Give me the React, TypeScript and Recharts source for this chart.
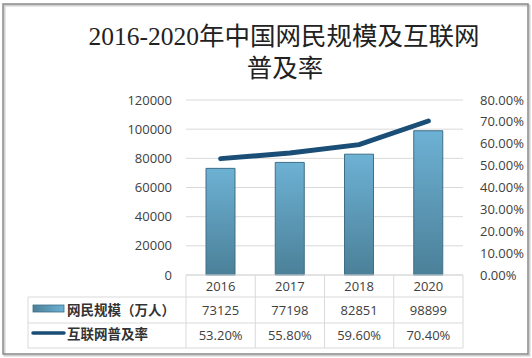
import React from 'react';
import { ComposedChart, Bar, Line, XAxis, YAxis, CartesianGrid } from 'recharts';

const years = ['2016', '2017', '2018', '2020'];
const netizens = [73125, 77198, 82851, 98899];
const penetration = [53.2, 55.8, 59.6, 70.4];
const leftTicks = [0, 20000, 40000, 60000, 80000, 100000, 120000];
const rightTicks = [0, 10, 20, 30, 40, 50, 60, 70, 80];
const seriesNames = ['网民规模（万人）', '互联网普及率'];
const titleLines = ['2016-2020年中国网民规模及互联网', '普及率'];

const data = years.map((y, i) => ({ year: y, netizens: netizens[i], penetration: penetration[i] }));

const W = 532;
const H = 358;
const PLOT_LEFT = 186;
const PLOT_RIGHT = 463;
const BW = (PLOT_RIGHT - PLOT_LEFT) / years.length;
const T0 = 275;
const T1 = 297;
const T2 = 323;
const T3 = 348;
const TABLE_LEFT = 28;
const GRID = '#d9d9d9';
const TXT = '#404040';
const FONT = "'Open Sans', 'Noto Sans', sans-serif";
const CJK = "'Noto Sans CJK SC', 'Noto Sans', sans-serif";
const SERIF = "'Liberation Serif', 'DejaVu Serif', 'Noto Sans CJK SC', serif";

const fmtPct = (v: number) => `${v.toFixed(2)}%`;

const TableTick = (props: any) => {
  const { x, index, payload } = props;
  const i = index as number;
  const left = x - BW / 2;
  const right = x + BW / 2;
  return (
    <g>
      <line x1={left} y1={T0} x2={left} y2={T3} stroke={GRID} />
      {i === years.length - 1 && <line x1={right} y1={T0} x2={right} y2={T3} stroke={GRID} />}
      <line x1={left} y1={T1} x2={right} y2={T1} stroke={GRID} />
      <line x1={left} y1={T2} x2={right} y2={T2} stroke={GRID} />
      <line x1={left} y1={T3} x2={right} y2={T3} stroke={GRID} />
      <text x={x} y={291} textAnchor="middle" fontSize={13} fill={TXT} fontFamily={FONT}>
        {payload.value}
      </text>
      <text x={x} y={315} textAnchor="middle" fontSize={13} fill={TXT} fontFamily={FONT}>
        {netizens[i]}
      </text>
      <text x={x} y={340} textAnchor="middle" fontSize={13} fill={TXT} fontFamily={FONT}>
        {fmtPct(penetration[i])}
      </text>
      {i === 0 && (
        <g>
          <line x1={TABLE_LEFT} y1={T1} x2={TABLE_LEFT} y2={T3} stroke={GRID} />
          <line x1={TABLE_LEFT} y1={T1} x2={left} y2={T1} stroke={GRID} />
          <line x1={TABLE_LEFT} y1={T2} x2={left} y2={T2} stroke={GRID} />
          <line x1={TABLE_LEFT} y1={T3} x2={left} y2={T3} stroke={GRID} />
          <rect x={33} y={305} width={31} height={7} fill="url(#legGrad)" stroke="#3e6f87" strokeWidth={0.8} />
          <line x1={33} y1={333} x2={64} y2={333} stroke="#1a4e76" strokeWidth={3.5} strokeLinecap="round" />
          <text x={67} y={315} fontSize={13.5} fontWeight={700} fill="#333" fontFamily={CJK}>
            {seriesNames[0]}
          </text>
          <text x={67} y={339} fontSize={13.5} fontWeight={700} fill="#333" fontFamily={CJK}>
            {seriesNames[1]}
          </text>
        </g>
      )}
    </g>
  );
};

export default function App() {
  return (
    <div style={{ position: 'absolute', left: 0, top: 0, width: W, height: H, background: '#fff' }}>
      <ComposedChart width={W} height={H} data={data} margin={{ top: 100, right: 0, bottom: 0, left: 0 }}>
        <defs>
          <linearGradient id="barGrad" x1="0" y1="0" x2="0" y2="1">
            <stop offset="0%" stopColor="#6db1d4" />
            <stop offset="100%" stopColor="#4b8098" />
          </linearGradient>
          <linearGradient id="legGrad" x1="0" y1="0" x2="1" y2="0">
            <stop offset="0%" stopColor="#4b8098" />
            <stop offset="100%" stopColor="#6db1d4" />
          </linearGradient>
        </defs>
        <CartesianGrid yAxisId="left" vertical={false} stroke={GRID} />
        <XAxis
          dataKey="year"
          height={H - T0}
          axisLine={{ stroke: GRID }}
          tickLine={false}
          tick={<TableTick />}
          interval={0}
        />
        <YAxis
          yAxisId="left"
          width={PLOT_LEFT}
          domain={[0, 120000]}
          ticks={leftTicks}
          axisLine={false}
          tickLine={false}
          tickMargin={8}
          tick={{ fontSize: 13, fill: TXT, fontFamily: FONT }}
        />
        <YAxis
          yAxisId="right"
          orientation="right"
          width={W - PLOT_RIGHT}
          domain={[0, 80]}
          ticks={rightTicks}
          axisLine={false}
          tickLine={false}
          tickMargin={11}
          tickFormatter={fmtPct}
          tick={{ fontSize: 13, fill: TXT, fontFamily: FONT }}
        />
        <Bar
          yAxisId="left"
          dataKey="netizens"
          barSize={29}
          fill="url(#barGrad)"
          stroke="#3e6f87"
          strokeWidth={1}
          isAnimationActive={false}
        />
        <Line
          yAxisId="right"
          dataKey="penetration"
          type="linear"
          stroke="#1a4e76"
          strokeWidth={5}
          strokeLinecap="round"
          dot={false}
          activeDot={false}
          isAnimationActive={false}
        />
      </ComposedChart>
      <svg width={W} height={H} style={{ position: 'absolute', left: 0, top: 0, pointerEvents: 'none' }}>
        <rect x={4.5} y={5.5} width={525} height={350} fill="none" stroke="#d0d0d0" strokeWidth={2} />
        <rect x={3} y={4} width={525} height={350} fill="none" stroke="#8a8a8a" strokeWidth={1.5} />
        <text x={284} y={45} textAnchor="middle" fontSize={25.5} fill="#222" fontFamily={SERIF}>
          {titleLines[0]}
        </text>
        <text x={285} y={77} textAnchor="middle" fontSize={25.5} fill="#222" fontFamily={SERIF}>
          {titleLines[1]}
        </text>
      </svg>
    </div>
  );
}
